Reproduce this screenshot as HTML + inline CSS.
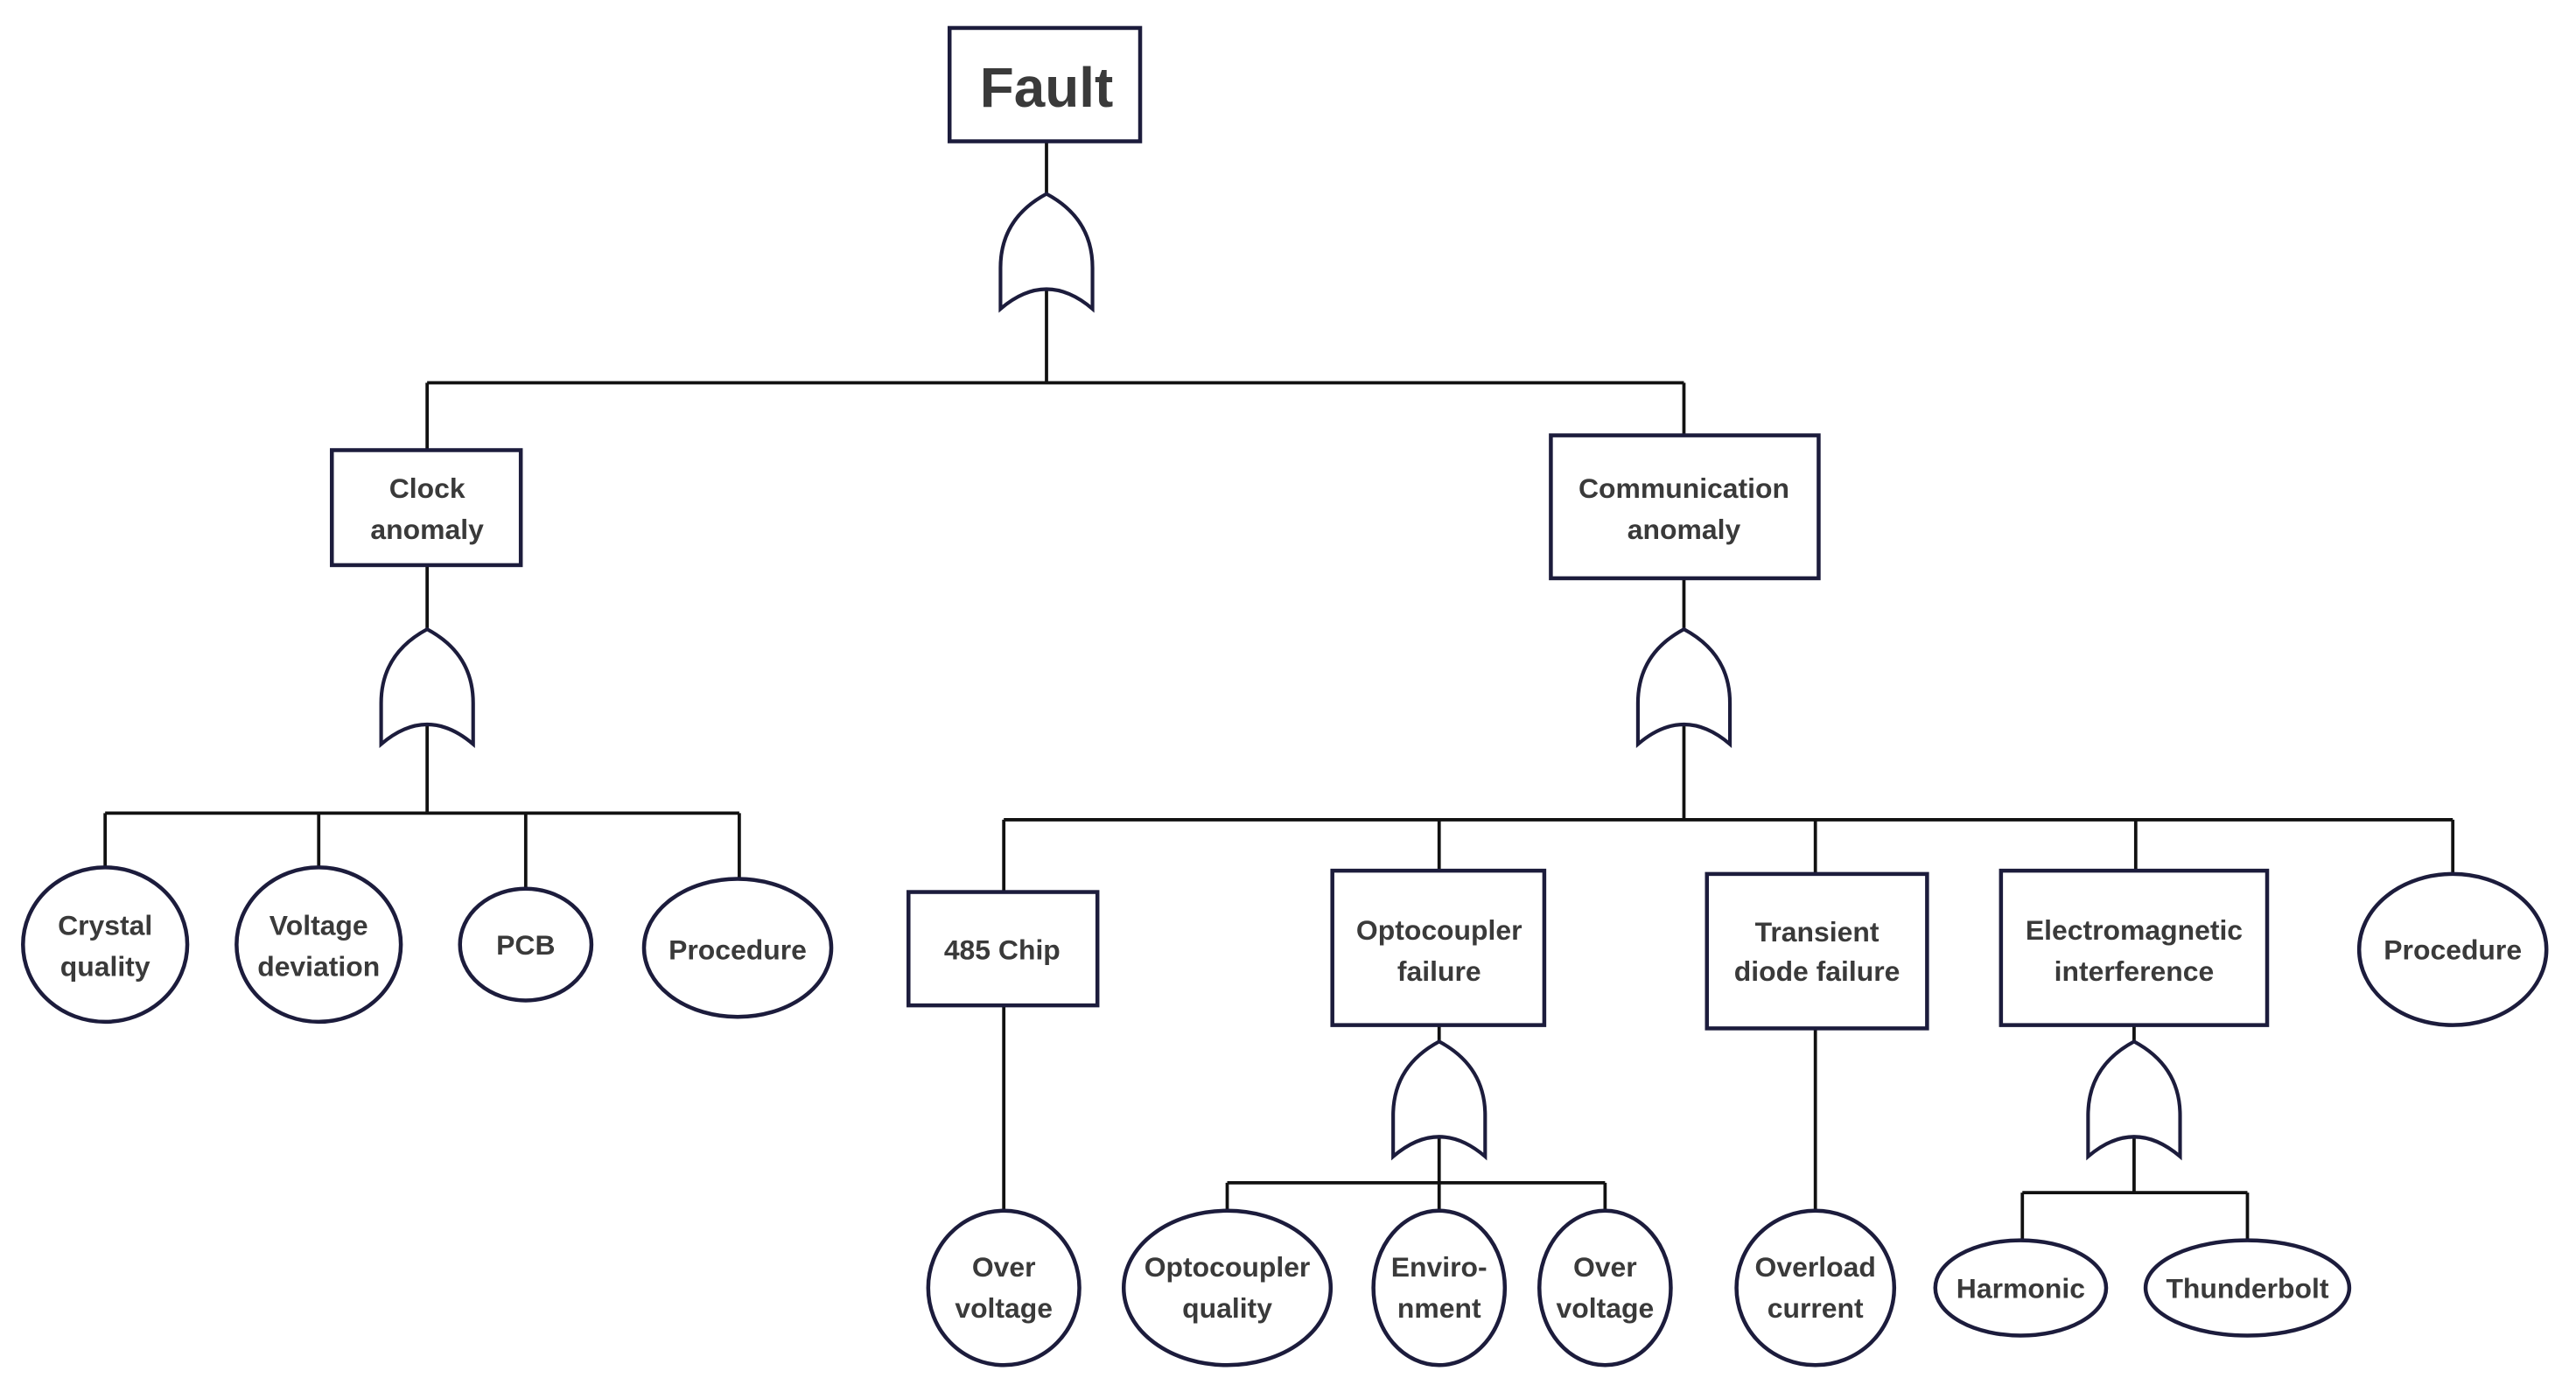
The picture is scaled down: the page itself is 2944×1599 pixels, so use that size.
<!DOCTYPE html>
<html><head><meta charset="utf-8"><style>
html,body{margin:0;padding:0;background:#fff;}
svg{display:block;}
text{font-family:"Liberation Sans",sans-serif;font-weight:bold;fill:#3a3a3a;text-anchor:middle;font-size:17px;}
.b{fill:#fff;stroke:#1c1c3c;stroke-width:2.4;}
.l{stroke:#111;stroke-width:2;fill:none;}
.g{fill:#fff;stroke:#1c1c3c;stroke-width:2.2;}
</style></head><body>
<svg width="2944" height="1599" viewBox="0 0 1568 851.6" xmlns="http://www.w3.org/2000/svg">
<!-- connectors -->
<path class="l" d="M637 86V118 M637 176V233 M260 233H1025 M260 233V274 M1025 233V265
M260 344V383 M260 441V495 M64 495H450 M64 495V528 M194 495V528 M320 495V541 M450 495V535
M1025 352V383 M1025 441V499 M611 499H1493 M611 499V543 M876 499V530 M1105 499V532 M1300 499V530 M1493 499V532
M611 612V737 M876 624V634 M876 692V720 M747 720H977 M747 720V737 M876 720V737 M977 720V737
M1105 626V737 M1299 624V634 M1299 692V726 M1231 726H1368 M1231 726V755 M1368 726V755"/>
<!-- gates -->
<path class="g" d="M609 188L609 163Q609 133 637 118Q665 133 665 163L665 188Q637 164 609 188Z"/>
<path class="g" d="M232 453L232 428Q232 398 260 383Q288 398 288 428L288 453Q260 429 232 453Z"/>
<path class="g" d="M997 453L997 428Q997 398 1025 383Q1053 398 1053 428L1053 453Q1025 429 997 453Z"/>
<path class="g" d="M848 704L848 679Q848 649 876 634Q904 649 904 679L904 704Q876 680 848 704Z"/>
<path class="g" d="M1271 704L1271 679Q1271 649 1299 634Q1327 649 1327 679L1327 704Q1299 680 1271 704Z"/>
<!-- boxes -->
<rect class="b" x="578" y="17" width="116" height="69"/>
<text x="637" y="65" style="font-size:34px">Fault</text>
<rect class="b" x="202" y="274" width="115" height="70"/>
<text x="260" y="303">Clock</text><text x="260" y="328">anomaly</text>
<rect class="b" x="944" y="265" width="163" height="87"/>
<text x="1025" y="303">Communication</text><text x="1025" y="328">anomaly</text>
<rect class="b" x="553" y="543" width="115" height="69"/>
<text x="610" y="584">485 Chip</text>
<rect class="b" x="811" y="530" width="129" height="94"/>
<text x="876" y="572">Optocoupler</text><text x="876" y="597">failure</text>
<rect class="b" x="1039" y="532" width="134" height="94"/>
<text x="1106" y="573">Transient</text><text x="1106" y="597">diode failure</text>
<rect class="b" x="1218" y="530" width="162" height="94"/>
<text x="1299" y="572">Electromagnetic</text><text x="1299" y="597">interference</text>
<!-- ellipses -->
<ellipse class="b" cx="64" cy="575" rx="50" ry="47"/>
<text x="64" y="569">Crystal</text><text x="64" y="594">quality</text>
<ellipse class="b" cx="194" cy="575" rx="50" ry="47"/>
<text x="194" y="569">Voltage</text><text x="194" y="594">deviation</text>
<ellipse class="b" cx="320" cy="575" rx="40" ry="34"/>
<text x="320" y="581">PCB</text>
<ellipse class="b" cx="449" cy="577" rx="57" ry="42"/>
<text x="449" y="584">Procedure</text>
<ellipse class="b" cx="1493" cy="578" rx="57" ry="46"/>
<text x="1493" y="584">Procedure</text>
<ellipse class="b" cx="611" cy="784" rx="46" ry="47"/>
<text x="611" y="777">Over</text><text x="611" y="802">voltage</text>
<ellipse class="b" cx="747" cy="784" rx="63" ry="47"/>
<text x="747" y="777">Optocoupler</text><text x="747" y="802">quality</text>
<ellipse class="b" cx="876" cy="784" rx="40" ry="47"/>
<text x="876" y="777">Enviro-</text><text x="876" y="802">nment</text>
<ellipse class="b" cx="977" cy="784" rx="40" ry="47"/>
<text x="977" y="777">Over</text><text x="977" y="802">voltage</text>
<ellipse class="b" cx="1105" cy="784" rx="48" ry="47"/>
<text x="1105" y="777">Overload</text><text x="1105" y="802">current</text>
<ellipse class="b" cx="1230" cy="784" rx="52" ry="29"/>
<text x="1230" y="790">Harmonic</text>
<ellipse class="b" cx="1368" cy="784" rx="62" ry="29"/>
<text x="1368" y="790">Thunderbolt</text>
</svg>
</body></html>
